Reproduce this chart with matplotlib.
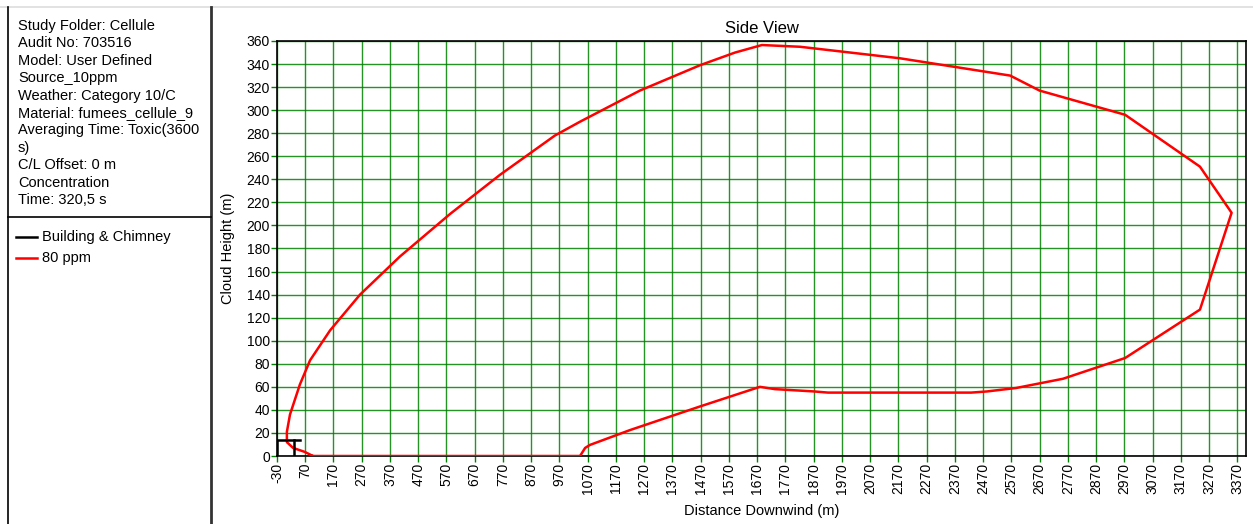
import matplotlib.pyplot as plt
from matplotlib.lines import Line2D

plt.rcParams['font.family'] = ['Liberation Sans', 'DejaVu Sans']

info_lines = [
    'Study Folder: Cellule',
    'Audit No: 703516',
    'Model: User Defined',
    'Source_10ppm',
    'Weather: Category 10/C',
    'Material: fumees_cellule_9',
    'Averaging Time: Toxic(3600',
    's)',
    'C/L Offset: 0 m',
    'Concentration',
    'Time: 320,5 s',
]

# building & chimney outline (m)
building_x = [-30, -30, 50]
building_y = [0, 14, 14]
chimney_x = [30, 30]
chimney_y = [0, 14]

# 80 ppm cloud contour (distance m, height m)
cloud_x = [97, 300, 600, 900, 1043, 1061, 1078, 1220, 1468, 1680, 1733, 1872,
           1921, 2031, 2428, 2484, 2587, 2753, 2973, 3238, 3350,
           3238, 2973, 2670, 2566, 2176, 1822, 1687, 1592, 1468, 1255, 1043,
           954, 760, 583, 405, 264, 158, 87, 51, 16, 5, 5, 27, 69, 97]
cloud_y = [0, 0, 0, 0, 0, 7, 9.6, 22.5, 43, 60, 58, 56,
           55, 55, 55, 56, 59, 67, 85, 127, 211,
           251, 296, 317, 330, 345, 355, 356.5, 350, 339, 317, 290,
           278, 244, 210, 173, 140, 109, 83, 62, 36, 21, 12, 7, 3.5, 0]

x_ticks = list(range(-30, 3371, 100))
y_ticks = list(range(0, 361, 20))

fig = plt.figure(figsize=(12.53, 5.24), dpi=100)

# left info panel frame
fig.add_artist(Line2D([0, 1], [1 - 7 / 524, 1 - 7 / 524], color='#dddddd', lw=1.2))
fig.add_artist(Line2D([7.5 / 1253, 7.5 / 1253], [0, 1 - 7 / 524], color='black', lw=1.2))
fig.add_artist(Line2D([211 / 1253, 211 / 1253], [0, 1 - 7 / 524], color='#333333', lw=2))
fig.add_artist(Line2D([7.5 / 1253, 211 / 1253], [1 - 217 / 524, 1 - 217 / 524], color='black', lw=1.2))

for i, line in enumerate(info_lines):
    fig.text(18 / 1253, 1 - (26 + i * 17.4) / 524, line, fontsize=10.5, va='center')

fig.add_artist(Line2D([16 / 1253, 37 / 1253], [1 - 237 / 524] * 2, color='black', lw=1.8))
fig.text(42 / 1253, 1 - 237 / 524, 'Building & Chimney', fontsize=10.5, va='center')
fig.add_artist(Line2D([16 / 1253, 37 / 1253], [1 - 258 / 524] * 2, color='red', lw=1.8))
fig.text(42 / 1253, 1 - 258 / 524, '80 ppm', fontsize=10.5, va='center')

ax = fig.add_axes([277 / 1253, 1 - 456 / 524, (1246 - 277) / 1253, (456 - 41) / 524])
ax.set_xlim(-30, 3401)
ax.set_ylim(0, 360)
ax.set_xticks(x_ticks)
ax.set_xticklabels([str(t) for t in x_ticks], rotation=90, fontsize=10)
ax.set_yticks(y_ticks)
ax.set_yticklabels([str(t) for t in y_ticks], fontsize=10)
ax.tick_params(length=4, width=1, color='green', pad=1)
ax.grid(True, color='green', linewidth=1, alpha=0.85)
ax.set_axisbelow(True)
for s in ax.spines.values():
    s.set_color('black')
    s.set_linewidth(1.2)

ax.plot(cloud_x, cloud_y, color='red', linewidth=1.8, zorder=3)
ax.plot(building_x, building_y, color='black', linewidth=1.8, zorder=4)
ax.plot(chimney_x, chimney_y, color='black', linewidth=1.8, zorder=4)

ax.set_title('Side View', fontsize=12, pad=6)
ax.set_xlabel('Distance Downwind (m)', fontsize=10.5, labelpad=7)
ax.set_ylabel('Cloud Height (m)', fontsize=10.5, labelpad=8)

fig.savefig('out.png', dpi=100)
